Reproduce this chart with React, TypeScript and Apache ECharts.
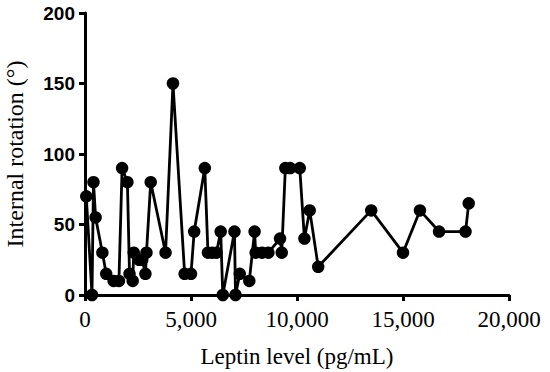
import React, { useEffect, useRef } from "react";
import * as echarts from "echarts";

const leptin = [60, 330, 400, 500, 820, 1000, 1350, 1600, 1750, 2000, 2100, 2250, 2300, 2550, 2700, 2850, 2900, 3100, 3800, 4150, 4700, 5000, 5150, 5650, 5800, 6000, 6200, 6400, 6500, 7050, 7100, 7300, 7750, 8000, 8050, 8350, 8650, 9200, 9280, 9450, 9680, 10130, 10350, 10600, 11000, 13500, 15000, 15800, 16700, 17950, 18100];
const rotation = [70, 0, 80, 55, 30, 15, 10, 10, 90, 80, 15, 10, 30, 25, 25, 15, 30, 80, 30, 150, 15, 15, 45, 90, 30, 30, 30, 45, 0, 45, 0, 15, 10, 45, 30, 30, 30, 40, 30, 90, 90, 90, 40, 60, 20, 60, 30, 60, 45, 45, 65];
const yTicks = [0, 50, 100, 150, 200];
const xTicks = [0, 5000, 10000, 15000, 20000];

export default function App() {
  const ref = useRef<HTMLDivElement>(null);
  useEffect(() => {
    if (!ref.current) return;
    const chart = echarts.init(ref.current, undefined, { renderer: "svg" });
    const data = leptin.map((x, i) => [x, rotation[i]]);
    chart.setOption({
      animation: false,
      backgroundColor: "#fff",
      grid: {
        left: 85,
        top: 13,
        width: 424,
        height: 282,
        containLabel: false,
        outerBoundsMode: "none",
      },
      xAxis: {
        type: "value",
        min: xTicks[0],
        max: xTicks[xTicks.length - 1],
        interval: 5000,
        name: "Leptin level (pg/mL)",
        nameLocation: "middle",
        nameGap: 50,
        nameTextStyle: { fontFamily: "Liberation Serif", fontSize: 23, color: "#000" },
        axisLine: { show: true, lineStyle: { color: "#000", width: 3 } },
        axisTick: { show: true, length: 6, lineStyle: { color: "#000", width: 3 } },
        axisLabel: {
          fontFamily: "Liberation Serif",
          fontSize: 23,
          color: "#000",
          margin: 13,
          formatter: (v: number) => v.toLocaleString("en-US"),
        },
        splitLine: { show: false },
      },
      yAxis: {
        type: "value",
        min: yTicks[0],
        max: yTicks[yTicks.length - 1],
        interval: 50,
        name: "Internal rotation (°)",
        nameLocation: "middle",
        nameGap: 58,
        nameTextStyle: { fontFamily: "Liberation Serif", fontSize: 24, color: "#000" },
        axisLine: { show: true, lineStyle: { color: "#000", width: 3 } },
        axisTick: { show: true, length: 6, lineStyle: { color: "#000", width: 3 } },
        axisLabel: {
          fontFamily: "Liberation Sans",
          fontWeight: "bold",
          fontSize: 19,
          color: "#000",
          margin: 10,
        },
        splitLine: { show: false },
      },
      series: [
        {
          type: "line",
          data,
          symbol: "circle",
          symbolSize: 12.5,
          showAllSymbol: true,
          lineStyle: { color: "#000", width: 2.8 },
          itemStyle: { color: "#000" },
          clip: false,
          z: 3,
        },
      ],
    });
    return () => chart.dispose();
  }, []);
  return <div ref={ref} style={{ width: 550, height: 372, position: "absolute", left: 0, top: 0 }} />;
}
